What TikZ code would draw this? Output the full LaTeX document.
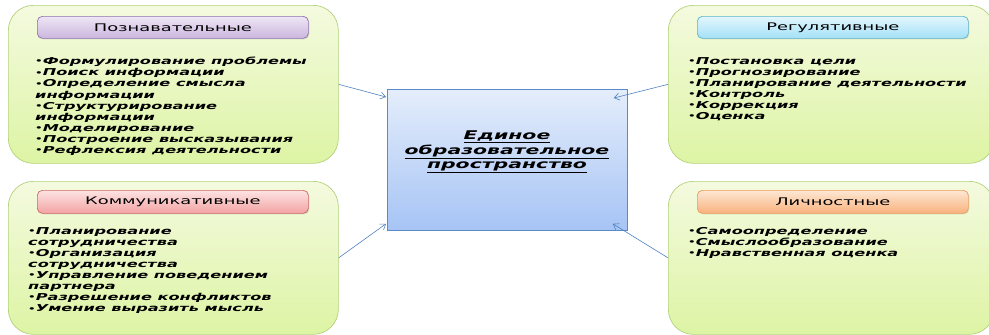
\documentclass[tikz,border=0pt]{standalone}
\usepackage{fontspec}
\setmainfont{DejaVu Sans}[FakeStretch=1.7]
\usetikzlibrary{arrows.meta,calc,shadows}
\definecolor{grnBorder}{HTML}{B3D27A}
\definecolor{grnTop}{HTML}{F4FADF}
\definecolor{grnBot}{HTML}{DDF4A4}
\definecolor{purTop}{HTML}{EEE6F5}
\definecolor{purBot}{HTML}{CBB6DF}
\definecolor{purBorder}{HTML}{8E70B0}
\definecolor{redTop}{HTML}{FDE3E3}
\definecolor{redBot}{HTML}{F3A3A3}
\definecolor{redBorder}{HTML}{CC6666}
\definecolor{cyaTop}{HTML}{E3F7FD}
\definecolor{cyaBot}{HTML}{A3E1F7}
\definecolor{cyaBorder}{HTML}{5FB3CC}
\definecolor{oraTop}{HTML}{FDE7D3}
\definecolor{oraBot}{HTML}{F9B27E}
\definecolor{oraBorder}{HTML}{EE9A5A}
\definecolor{bluTop}{HTML}{E4EDFB}
\definecolor{bluBot}{HTML}{A6C4F5}
\definecolor{bluBorder}{HTML}{5B8AC8}
\definecolor{arrowCol}{HTML}{4F81BD}
\newcommand\itembul{\raisebox{0.8pt}{\fontsize{7}{7}\selectfont•}}
\begin{document}
\begin{tikzpicture}[x=1pt,y=-1pt,
  outerbox/.style={draw=grnBorder, line width=0.7pt, rounded corners=25pt,
    top color=grnTop, bottom color=grnBot, inner sep=0pt, anchor=north west},
  titlebox/.style={line width=0.7pt, rounded corners=5pt, inner sep=0pt,
    anchor=north west, minimum width=271pt,
    font=\fontsize{10.5}{12}\selectfont,
    drop shadow={opacity=0.2, shadow xshift=1pt, shadow yshift=-1pt}},
  itemlist/.style={anchor=north west, inner sep=0pt, align=left,
    font=\fontsize{9.5}{11.1}\selectfont\bfseries\itshape},
  conn/.style={draw=arrowCol, line width=0.6pt,
    -{Straight Barb[length=5pt,width=7pt]}}]
\useasboundingbox (0,0) rectangle (989,335);
\clip (0,0) rectangle (989,335);

% outer boxes
\node[outerbox, minimum width=330pt, minimum height=158pt] (pz) at (8,5) {};
\node[outerbox, minimum width=330pt, minimum height=153pt] (kom) at (8,181) {};
\node[outerbox, minimum width=326pt, minimum height=158pt] (reg) at (668,5) {};
\node[outerbox, minimum width=326pt, minimum height=153pt] (lich) at (668,181) {};

% title boxes
\node[titlebox, draw=purBorder, top color=purTop, bottom color=purBot, minimum height=22pt] (tpz) at (37,16) {Познавательные};
\node[titlebox, draw=redBorder, top color=redTop, bottom color=redBot, minimum height=23pt] (tkom) at (37,190) {Коммуникативные};
\node[titlebox, draw=cyaBorder, top color=cyaTop, bottom color=cyaBot, minimum height=22pt] (treg) at (697,16) {Регулятивные};
\node[titlebox, draw=oraBorder, top color=oraTop, bottom color=oraBot, minimum height=23pt] (tlich) at (697,190) {Личностные};

% item lists
\node[itemlist] (lpz) at (35,57) {\itembul Формулирование проблемы\\\itembul Поиск информации\\\itembul Определение смысла\\информации\\\itembul Структурирование\\информации\\\itembul Моделирование\\\itembul Построение высказывания\\\itembul Рефлексия деятельности};
\node[itemlist] (lkom) at (28,227) {\itembul Планирование\\сотрудничества\\\itembul Организация\\сотрудничества\\\itembul Управление поведением\\партнера\\\itembul Разрешение конфликтов\\\itembul Умение выразить мысль};
\node[itemlist] (lreg) at (688,57) {\itembul Постановка цели\\\itembul Прогнозирование\\\itembul Планирование деятельности\\\itembul Контроль\\\itembul Коррекция\\\itembul Оценка};
\node[itemlist] (llich) at (688,227) {\itembul Самоопределение\\\itembul Смыслообразование\\\itembul Нравственная оценка};

% center box
\node[anchor=north west, draw=bluBorder, line width=0.8pt, top color=bluTop, bottom color=bluBot,
  minimum width=240pt, minimum height=141pt, inner sep=0pt,
  drop shadow={opacity=0.25, shadow xshift=1pt, shadow yshift=-1pt}] (cbox) at (387,89) {};
\node[align=center, inner sep=0pt, font=\fontsize{12}{14.5}\selectfont\bfseries\itshape] (ctext) at (507,152)
  {\underline{Единое}\\\underline{образовательное}\\\underline{пространство}};

% connectors
\draw[conn] (pz.east) -- ($(cbox.north west)+(-1,8)$);
\draw[conn] (kom.east) -- ($(cbox.south west)+(-1,-7)$);
\draw[conn] (reg.west) -- ($(cbox.north east)+(-14,9)$);
\draw[conn] (lich.west) -- ($(cbox.south east)+(-15,-7)$);
\end{tikzpicture}
\end{document}
